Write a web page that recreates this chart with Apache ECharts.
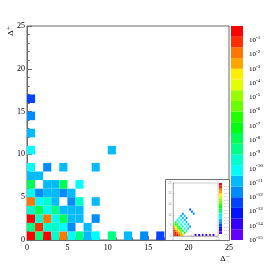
<!DOCTYPE html>
<html><head><meta charset="utf-8">
<script src="https://cdn.jsdelivr.net/npm/echarts@6/dist/echarts.min.js"></script>
<style>html,body{margin:0;padding:0;background:#fff}#c{width:274px;height:267px}</style>
</head><body><div id="c"></div>
<script>
// ---- data ----
const xTickValues = [0, 5, 10, 15, 20, 25];
const yTickValues = [0, 5, 10, 15, 20, 25];
const colorbarExponents = [-1, -2, -3, -4, -5, -6, -7, -8, -9, -10, -11, -12, -13, -14, -15];
const zMinLog = -15, zMaxLog = 0;
// ROOT-like palette, 20 contour colours (low -> high)
const paletteColors = ['#6300ff','#3300ff','#0014ff','#0044ff','#008bff','#00bbff','#00fffc','#00ffcc',
  '#00ff85','#00ff55','#00ff0e','#22ff00','#69ff00','#99ff00','#e0ff00','#ffee00','#ffa700','#ff7700','#ff3000','#ff0000'];
// main histogram cells: [Δ- bin, Δ+ bin, content]
const mainCells = [
  [0,0,0.45],[1,0,2.5e-9],[2,0,0.3],[3,0,4e-10],[4,0,1.5e-2],[5,0,8e-11],[6,0,2e-9],[7,0,1.2e-11],[8,0,7e-11],[10,0,2.2e-9],[12,0,1.5e-11],[14,0,2.5e-12],[16,0,4e-13],
  [0,1,3e-9],[1,1,6e-2],[2,1,4e-10],[3,1,3.5e-10],[4,1,9e-11],[5,1,2.2e-12],[7,1,1.1e-11],
  [0,2,0.35],[1,2,3.8e-10],[2,2,1.2e-2],[3,2,8e-11],[4,2,1.2e-8],[5,2,1.4e-11],[6,2,1.3e-11],[8,2,2e-12],
  [0,3,4.5e-10],[1,3,1.8e-8],[2,3,7e-11],[3,3,2.6e-9],[4,3,1.2e-11],[5,3,1.3e-11],[6,3,1.1e-11],
  [0,4,1.4e-2],[1,4,8e-11],[2,4,4e-10],[3,4,1.3e-11],[5,4,2.4e-12],[6,4,4.4e-10],[8,4,1.2e-11],
  [0,5,7.5e-11],[1,5,2.3e-12],[2,5,1.3e-11],[3,5,1.2e-11],[4,5,2.5e-12],[5,5,1.4e-11],
  [0,6,1.5e-8],[2,6,1.2e-11],[3,6,1.3e-11],[4,6,1.3e-8],[6,6,8e-11],
  [0,7,1.3e-11],[1,7,1.2e-11],
  [0,8,8e-11],[2,8,2.3e-12],[4,8,1.3e-11],[8,8,1.2e-11],
  [0,10,7.5e-11],[10,10,1.3e-11],
  [0,12,1.3e-11],
  [0,14,2.5e-12],
  [0,16,4e-13]
];
// inset histogram cells
const insetCells = [
  [0,0,0.42],[1,0,7.5e-2],[2,0,0.4],[3,0,1.3e-2],[4,0,2.4e-3],[5,0,7.5e-5],[12,0,1.3e-14],[14,0,1.3e-14],[16,0,2.4e-15],[18,0,1.3e-14],[20,0,2.4e-15],[22,0,1.3e-14],
  [0,1,7.5e-2],[1,1,0.42],[2,1,1.3e-2],[3,1,2.4e-3],[4,1,1.3e-5],[6,1,7.5e-8],
  [0,2,0.4],[1,2,1.3e-2],[2,2,2.4e-3],[3,2,7.5e-5],[4,2,2.4e-6],[5,2,1.3e-8],[7,2,4.2e-10],
  [0,3,1.3e-2],[1,3,4.2e-4],[2,3,1.3e-5],[3,3,4.2e-7],[4,3,1.3e-8],[6,3,4.2e-10],[8,3,1.3e-11],
  [0,4,2.4e-3],[1,4,7.5e-5],[2,4,4.2e-7],[3,4,1.3e-8],[5,4,4.2e-10],[7,4,7.5e-11],[9,4,2.4e-12],
  [0,5,1.3e-5],[1,5,4.2e-7],[2,5,1.3e-8],[4,5,4.2e-10],[6,5,7.5e-11],[8,5,1.3e-11],
  [1,6,1.3e-8],[3,6,4.2e-10],[5,6,7.5e-11],[7,6,1.3e-11],
  [2,7,4.2e-10],[4,7,7.5e-11],[6,7,1.3e-11],
  [3,8,7.5e-11],[5,8,1.3e-11],[7,8,2.4e-12],
  [4,9,1.3e-11],[6,9,1.3e-11],
  [5,10,2.4e-12],
  [9,12,4.2e-13],[10,11,2.4e-12],[11,10,2.4e-12]
];
// ---- helpers ----
const nBands = paletteColors.length;
const bandStep = (zMaxLog - zMinLog) / nBands;
function colorFor(v) {
  let j = Math.floor((Math.log10(v) - zMinLog) / bandStep);
  j = Math.max(0, Math.min(nBands - 1, j));
  return paletteColors[j];
}
const bandData = paletteColors.map((c, i) => [zMinLog + i * bandStep, zMinLog + (i + 1) * bandStep, i]);
function cellRender(params, api) {
  const x = api.value(0), y = api.value(1), v = api.value(2);
  const p0 = api.coord([x, y + 1]), p1 = api.coord([x + 1, y]);
  return { type: 'rect', shape: { x: p0[0], y: p0[1], width: p1[0] - p0[0], height: p1[1] - p0[1] }, style: { fill: colorFor(v) } };
}
function bandRender(params, api) {
  const lo = api.value(0), hi = api.value(1), i = api.value(2);
  const p0 = api.coord([0, hi]), p1 = api.coord([1, lo]);
  return { type: 'rect', shape: { x: p0[0], y: p0[1], width: p1[0] - p0[0], height: p1[1] - p0[1] }, style: { fill: paletteColors[i] } };
}
const serif = "'Liberation Serif','DejaVu Serif',serif";
const axisGray = '#6a6a6a';

const chart = echarts.init(document.getElementById('c'), null, { renderer: 'canvas' });
const option = {
  animation: false,
  backgroundColor: '#fff',
  grid: [
    { left: 27, top: 26, width: 202, height: 214, show: true, borderColor: axisGray, borderWidth: 1, backgroundColor: 'transparent' },
    { left: 231, top: 26, width: 12, height: 214 },
    { left: 173, top: 183, width: 45, height: 53 },
    { left: 219, top: 183, width: 3, height: 51 }
  ],
  xAxis: [
    { gridIndex: 0, type: 'value', min: 0, max: 25, interval: 5,
      axisLine: { lineStyle: { color: axisGray } },
      axisTick: { inside: true, length: 4, lineStyle: { color: axisGray } },
      minorTick: { show: true, splitNumber: 5, length: 2.5, lineStyle: { color: axisGray } },
      splitLine: { show: false },
      axisLabel: { fontSize: 8, fontFamily: serif, color: '#000', margin: 4,
        formatter: v => xTickValues.indexOf(v) >= 0 ? String(v) : '' } },
    { gridIndex: 1, type: 'value', min: 0, max: 1, show: false },
    { gridIndex: 2, type: 'value', min: 0, max: 25, interval: 5, z: 60,
      axisLine: { lineStyle: { color: '#999', width: 0.6 } },
      axisTick: { inside: true, length: 1.5, lineStyle: { color: '#999', width: 0.5 } },
      splitLine: { show: false },
      axisLabel: { fontSize: 3, color: '#999', margin: 1.5,
        formatter: v => (v === 0 || v === 25) ? String(v) : '' } },
    { gridIndex: 3, type: 'value', min: 0, max: 1, show: false }
  ],
  yAxis: [
    { gridIndex: 0, type: 'value', min: 0, max: 25, interval: 5,
      axisLine: { show: true, lineStyle: { color: axisGray } },
      axisTick: { show: true, inside: true, length: 5, lineStyle: { color: axisGray } },
      minorTick: { show: true, splitNumber: 5, length: 2.7, lineStyle: { color: axisGray } },
      splitLine: { show: false },
      axisLabel: { fontSize: 8, fontFamily: serif, color: '#000', margin: 2,
        formatter: v => yTickValues.indexOf(v) >= 0 ? String(v) : '' } },
    { gridIndex: 1, type: 'value', min: zMinLog, max: zMaxLog, interval: 1, position: 'right',
      axisLine: { show: false }, axisTick: { show: false }, splitLine: { show: false },
      axisLabel: { margin: 6, color: '#000',
        formatter: v => colorbarExponents.indexOf(v) >= 0 ? '{b|10}{s|' + v + '}' : '',
        rich: { b: { fontSize: 7, fontFamily: serif, lineHeight: 10, color: '#000' },
                s: { fontSize: 5, fontFamily: serif, lineHeight: 5, verticalAlign: 'top', color: '#000' } } } },
    { gridIndex: 2, type: 'value', min: 0, max: 25, interval: 5, z: 60,
      axisLine: { show: true, lineStyle: { color: '#999', width: 0.6 } },
      axisTick: { show: true, inside: true, length: 1.5, lineStyle: { color: '#999', width: 0.5 } },
      splitLine: { show: false },
      axisLabel: { fontSize: 3, color: '#999', margin: 1.5 } },
    { gridIndex: 3, type: 'value', min: zMinLog, max: zMaxLog, interval: 1, position: 'right', z: 60,
      axisLine: { show: false }, axisTick: { show: false }, splitLine: { show: false },
      axisLabel: { fontSize: 2.5, color: '#aaa', margin: 2,
        formatter: v => colorbarExponents.indexOf(v) >= 0 ? '10' + v : '' } }
  ],
  series: [
    { type: 'custom', xAxisIndex: 0, yAxisIndex: 0, renderItem: cellRender, data: mainCells, encode: { x: 0, y: 1 }, z: 2, clip: true },
    { type: 'custom', xAxisIndex: 1, yAxisIndex: 1, renderItem: bandRender, data: bandData, encode: { y: [0, 1] }, z: 2 },
    { type: 'custom', xAxisIndex: 2, yAxisIndex: 2, renderItem: cellRender, data: insetCells, encode: { x: 0, y: 1 }, z: 60 },
    { type: 'custom', xAxisIndex: 3, yAxisIndex: 3, renderItem: bandRender, data: bandData, encode: { y: [0, 1] }, z: 60 }
  ],
  graphic: [
    { type: 'rect', z: 50, shape: { x: 165.5, y: 179.5, width: 64, height: 61 }, style: { fill: '#fff', stroke: '#707070', lineWidth: 1 } },
    { type: 'rect', z: 55, shape: { x: 173, y: 183, width: 45, height: 53 }, style: { fill: 'none', stroke: '#b0b0b0', lineWidth: 0.6 } },
    { type: 'text', z: 70, x: 11, y: 31, rotation: Math.PI / 2, style: { text: 'Δ⁺', fontSize: 8, fontFamily: "'DejaVu Serif',serif", fill: '#000', align: 'center', verticalAlign: 'middle' } },
    { type: 'text', z: 70, x: 225, y: 259, style: { text: 'Δ⁻', fontSize: 8, fontFamily: "'DejaVu Serif',serif", fill: '#000', align: 'center', verticalAlign: 'middle' } }
  ]
};
chart.setOption(option);
</script></body></html>
